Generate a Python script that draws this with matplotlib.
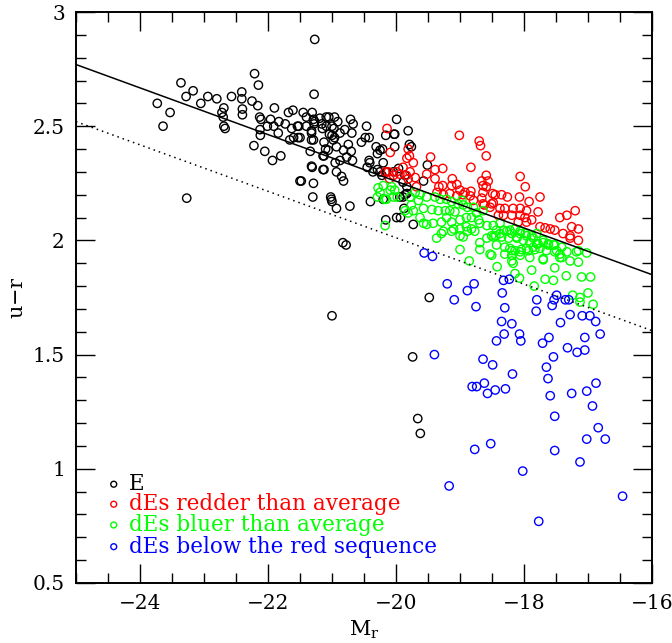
import matplotlib
matplotlib.use("Agg")
import matplotlib.pyplot as plt
from matplotlib.ticker import MultipleLocator

plt.rcParams['font.family'] = ['DejaVu Serif']
plt.rcParams['mathtext.fontset'] = 'dejavuserif'

# ---- data (M_r, u-r) ----
e_points = [
(-21.27,2.88),(-23.73,2.60),(-23.64,2.50),(-23.53,2.56),(-23.36,2.69),(-23.28,2.63),(-23.17,2.655),(-23.05,2.60),
(-22.94,2.63),(-22.80,2.62),(-22.69,2.58),(-22.72,2.56),(-22.70,2.54),(-22.69,2.50),(-22.67,2.49),(-22.57,2.63),
(-22.41,2.65),(-22.41,2.62),(-22.40,2.575),(-22.40,2.55),(-22.25,2.61),(-22.21,2.73),(-22.15,2.68),(-22.16,2.59),
(-22.13,2.54),(-22.11,2.53),(-22.125,2.485),(-22.12,2.46),(-22.22,2.415),(-22.05,2.39),(-21.93,2.35),(-21.80,2.37),
(-22.01,2.50),(-21.96,2.53),(-21.90,2.58),(-21.91,2.50),(-21.84,2.47),(-21.83,2.52),(-21.73,2.51),(-21.68,2.56),
(-21.61,2.57),(-21.63,2.49),(-21.60,2.45),(-21.52,2.50),(-21.50,2.45),(-21.45,2.56),(-21.40,2.54),(-21.40,2.50),
(-21.34,2.39),(-21.32,2.48),(-21.32,2.44),(-21.31,2.56),(-21.28,2.64),(-21.29,2.53),(-21.27,2.52),(-21.31,2.32),
(-21.125,2.31),(-21.48,2.26),(-21.29,2.25),(-21.30,2.19),(-21.01,2.18),(-21.00,2.17),(-23.27,2.185),(-21.19,2.535),
(-21.16,2.51),(-21.15,2.49),(-21.09,2.54),(-21.05,2.54),(-20.96,2.54),(-21.10,2.40),(-21.125,2.37),(-21.0,2.50),
(-20.97,2.49),(-21.0,2.46),(-20.96,2.45),(-21.54,2.50),(-21.28,2.51),(-21.32,2.47),(-21.09,2.50),(-20.91,2.52),
(-21.04,2.465),(-20.875,2.47),(-20.80,2.485),(-20.71,2.53),(-20.67,2.51),(-20.69,2.47),(-21.66,2.44),(-21.53,2.45),
(-21.29,2.44),(-21.125,2.43),(-20.98,2.44),(-21.14,2.37),(-21.06,2.395),(-20.93,2.41),(-20.82,2.395),(-20.745,2.42),
(-20.70,2.39),(-20.77,2.365),(-20.68,2.35),(-20.875,2.35),(-20.95,2.34),(-21.32,2.325),(-21.14,2.31),(-20.93,2.30),
(-20.85,2.28),(-20.82,2.26),(-21.50,2.26),(-21.02,2.19),(-20.93,2.14),(-20.72,2.15),(-20.46,2.50),(-20.48,2.45),
(-20.42,2.45),(-20.54,2.43),(-20.42,2.35),(-20.41,2.34),(-20.45,2.32),(-20.31,2.41),(-20.29,2.38),(-20.25,2.395),
(-20.20,2.34),(-20.29,2.31),(-20.36,2.30),(-20.22,2.285),(-19.99,2.53),(-20.02,2.465),(-19.81,2.48),(-20.40,2.17),
(-20.16,2.46),(-20.03,2.465),(-19.79,2.42),(-19.76,2.41),(-20.02,2.41),(-20.21,2.40),(-20.25,2.30),(-20.15,2.30),
(-20.04,2.30),(-19.96,2.315),(-19.86,2.285),(-19.51,2.33),(-19.57,2.26),(-19.89,2.255),(-19.83,2.205),(-19.89,2.19),
(-19.94,2.19),(-20.20,2.18),(-19.875,2.14),(-19.99,2.10),(-19.93,2.10),(-20.16,2.09),(-19.73,2.07),(-19.86,2.20),
(-19.83,2.235),(-20.83,1.99),(-20.78,1.98),(-21.0,1.67),(-19.48,1.75),(-19.74,1.49),(-19.66,1.22),(-19.62,1.155),
]

red_points = [
(-20.14,2.49),(-19.01,2.46),(-18.70,2.435),(-18.68,2.415),(-18.59,2.37),(-20.09,2.385),(-19.81,2.40),(-19.83,2.36),
(-19.79,2.37),(-19.73,2.34),(-19.46,2.365),(-19.39,2.31),(-19.27,2.315),(-18.83,2.32),(-18.59,2.285),(-18.66,2.26),
(-18.64,2.24),(-20.12,2.30),(-20.04,2.285),(-19.94,2.29),(-19.84,2.285),(-19.78,2.30),(-19.70,2.275),(-19.52,2.29),
(-19.39,2.27),(-19.27,2.24),(-19.33,2.235),(-19.13,2.24),(-19.05,2.245),(-19.12,2.27),(-19.36,2.21),(-19.26,2.20),
(-19.16,2.205),(-19.05,2.195),(-18.95,2.20),(-18.84,2.195),(-18.79,2.175),(-18.66,2.185),(-18.59,2.235),(-18.56,2.26),
(-18.45,2.20),(-18.48,2.165),(-18.62,2.155),(-18.53,2.145),(-19.0,2.22),(-18.92,2.21),(-18.83,2.215),(-18.64,2.21),
(-18.49,2.205),(-18.35,2.20),(-18.26,2.19),(-18.06,2.28),(-17.98,2.235),(-17.75,2.19),(-17.92,2.17),(-18.07,2.19),
(-18.64,2.16),(-18.505,2.16),(-18.375,2.14),(-18.30,2.14),(-18.17,2.14),(-18.06,2.14),(-17.96,2.13),(-17.78,2.125),
(-18.40,2.11),(-18.32,2.11),(-18.19,2.11),(-18.06,2.11),(-17.985,2.10),(-17.88,2.09),(-18.09,2.08),(-17.96,2.08),
(-17.75,2.06),(-17.67,2.055),(-17.59,2.05),(-17.52,2.045),(-17.44,2.10),(-17.33,2.11),(-17.20,2.13),(-17.255,2.06),
(-17.15,2.05),(-17.39,2.03),(-17.28,2.02),(-17.28,2.01),(-17.15,2.00),(-20.17,2.30),(-19.99,2.30),(-19.89,2.32),
(-19.68,2.235),(-19.81,2.27),(-20.10,2.27),
]

green_points = [
(-19.365,2.01),(-19.29,2.03),(-19.13,2.04),(-19.0,2.02),(-18.885,2.04),(-18.77,2.04),(-18.69,1.99),(-18.58,2.01),
(-18.505,2.02),(-18.44,2.02),(-18.375,2.03),(-18.27,2.04),(-18.19,2.03),(-18.115,2.015),(-18.06,2.03),(-17.96,2.02),
(-17.855,2.01),(-17.78,1.985),(-17.70,1.99),(-17.62,1.98),(-17.52,1.98),(-17.49,1.955),(-17.41,1.925),(-17.28,1.91),
(-17.15,1.905),(-17.15,1.955),(-17.02,1.945),(-19.0,1.96),(-18.855,1.91),(-18.69,1.96),(-18.53,1.94),(-18.42,1.885),
(-18.30,1.94),(-18.19,1.955),(-18.19,1.91),(-18.17,1.90),(-18.06,1.95),(-17.93,1.955),(-17.83,1.96),(-17.70,1.915),
(-17.88,1.87),(-18.14,1.855),(-18.07,1.835),(-17.84,1.80),(-17.67,1.83),(-17.54,1.825),(-17.52,1.88),(-17.34,1.845),
(-17.10,1.84),(-16.96,1.84),(-17.24,1.76),(-17.125,1.75),(-17.125,1.73),(-17.0,1.77),(-16.92,1.72),
(-20.20,2.24),(-20.07,2.235),(-20.15,2.18),(-20.02,2.22),(-19.98,2.19),(-19.78,2.19),(-19.70,2.21),(-19.625,2.20),
(-19.52,2.19),(-19.39,2.19),(-19.31,2.18),(-19.21,2.18),(-19.13,2.17),(-19.03,2.16),(-18.95,2.155),(-18.97,2.175),
(-18.885,2.145),(-18.79,2.145),(-18.74,2.12),(-18.64,2.13),(-19.57,2.14),(-19.44,2.135),(-19.34,2.13),(-19.23,2.13),
(-19.16,2.13),(-19.08,2.125),(-19.21,2.10),(-19.29,2.08),(-19.42,2.075),(-19.57,2.075),(-19.13,2.08),(-19.0,2.09),
(-18.90,2.10),(-18.82,2.10),(-18.71,2.09),(-18.69,2.075),(-18.58,2.065),(-18.48,2.065),(-18.375,2.075),(-18.90,2.06),
(-18.82,2.05),(-19.0,2.05),(-19.10,2.05),(-19.26,2.04),(-18.95,2.015),(-18.32,2.045),
(-20.28,2.23),(-20.25,2.21),(-20.29,2.19),(-20.18,2.18),(-20.09,2.22),(-20.04,2.19),(-19.86,2.13),(-19.81,2.12),
(-19.65,2.175),(-19.76,2.155),(-20.17,2.065),(-19.73,2.13),(-19.625,2.10),(-19.52,2.07),
(-18.43,2.045),(-18.22,2.045),(-18.14,2.05),(-18.06,2.04),(-17.98,2.03),(-17.88,2.02),(-17.80,2.03),(-17.70,2.00),
(-17.62,1.985),(-17.54,1.98),(-17.41,1.97),(-18.48,2.015),(-18.35,2.015),(-18.24,2.01),(-18.11,2.01),(-18.01,2.00),
(-17.91,1.99),(-17.80,1.985),(-18.43,1.98),(-18.30,1.97),(-18.22,1.965),(-18.14,1.955),(-18.04,1.96),(-17.96,1.965),
(-17.855,1.97),(-17.75,1.965),(-17.65,1.955),(-17.52,1.95),(-17.44,1.94),(-17.33,1.95),(-17.18,1.95),(-18.505,1.935),
(-18.19,1.935),(-18.06,1.935),(-17.91,1.925),(-17.70,1.92),(-17.44,1.925),
]

blue_points = [
(-19.56,1.945),(-19.43,1.93),(-19.20,1.81),(-19.09,1.74),(-18.885,1.78),(-18.78,1.81),(-18.75,1.71),(-18.32,1.825),
(-18.23,1.83),(-18.34,1.77),(-18.30,1.705),(-18.35,1.645),(-18.19,1.635),(-18.31,1.59),(-18.07,1.59),(-18.05,1.56),
(-18.43,1.56),(-17.80,1.74),(-17.81,1.69),(-17.56,1.715),(-17.53,1.74),(-17.49,1.76),(-17.355,1.74),(-17.30,1.74),
(-17.28,1.675),(-17.09,1.67),(-16.97,1.67),(-16.88,1.645),(-16.81,1.59),(-17.05,1.575),(-17.43,1.64),(-17.61,1.575),
(-17.71,1.55),(-17.32,1.53),(-17.17,1.51),(-17.05,1.52),(-17.54,1.49),(-17.65,1.445),(-17.625,1.395),(-17.59,1.32),
(-17.255,1.33),(-17.02,1.34),(-16.875,1.375),(-16.93,1.275),(-17.52,1.23),(-16.84,1.18),(-17.02,1.13),(-16.73,1.13),
(-17.52,1.08),(-17.125,1.03),(-18.02,0.99),(-19.17,0.925),(-16.46,0.88),(-19.40,1.50),(-18.64,1.48),(-18.49,1.455),
(-18.18,1.415),(-18.81,1.36),(-18.74,1.36),(-18.62,1.375),(-18.57,1.33),(-18.45,1.345),(-18.29,1.35),(-18.77,1.085),
(-18.52,1.11),(-17.77,0.77),
]

# red-sequence fit (solid) and offset line (dotted)
line_x = [-25.0, -16.0]
solid_y = [2.77, 1.85]
dotted_y = [2.52, 1.605]

legend_labels = ["E", "dEs redder than average", "dEs bluer than average", "dEs below the red sequence"]
colors = ["black", "#ff0000", "#00ff00", "#0000ff"]
groups = [e_points, red_points, green_points, blue_points]

x_ticks = [-24, -22, -20, -18, -16]
y_ticks = [0.5, 1, 1.5, 2, 2.5, 3]
y_ticklabels = ["0.5", "1", "1.5", "2", "2.5", "3"]

fig = plt.figure(figsize=(6.72, 6.43), dpi=100)
ax = fig.add_axes([76/672, 60/643, 576/672, 571/643])

ax.plot(line_x, solid_y, color="black", lw=1.1)
ax.plot(line_x, dotted_y, color="black", lw=1.1, linestyle=(0, (1, 2.6)))

for pts, c in zip(groups, colors):
    xs = [p[0] for p in pts]
    ys = [p[1] for p in pts]
    ax.scatter(xs, ys, s=36, facecolors="none", edgecolors=c, linewidths=1.0)

# legend drawn as in the original (marker + coloured text)
leg_y = [0.173, 0.138, 0.1016, 0.0636]
for lab, c, yy in zip(legend_labels, colors, leg_y):
    ax.scatter([0.0655], [yy], s=18, facecolors="none", edgecolors=c, linewidths=1.0,
               transform=ax.transAxes)
    ax.text(0.092, yy, lab, color=c, transform=ax.transAxes, fontsize=15.5,
            va="center", ha="left")

ax.set_xlim(-25, -16)
ax.set_ylim(0.5, 3)
ax.set_xticks(x_ticks)
ax.set_yticks(y_ticks)
ax.set_yticklabels(y_ticklabels)
ax.xaxis.set_minor_locator(MultipleLocator(0.5))
ax.yaxis.set_minor_locator(MultipleLocator(0.1))
ax.tick_params(which="both", direction="in", top=True, right=True, labelsize=14.5, width=1.0)
ax.tick_params(which="major", length=14, pad=8)
ax.tick_params(which="minor", length=7)
for sp in ax.spines.values():
    sp.set_linewidth(1.4)

ax.set_xlabel(r"M$_{\rm r}$", fontsize=15, labelpad=4)
ax.set_ylabel("u$-$r", fontsize=15, labelpad=4)

fig.savefig("out.png", dpi=100)
